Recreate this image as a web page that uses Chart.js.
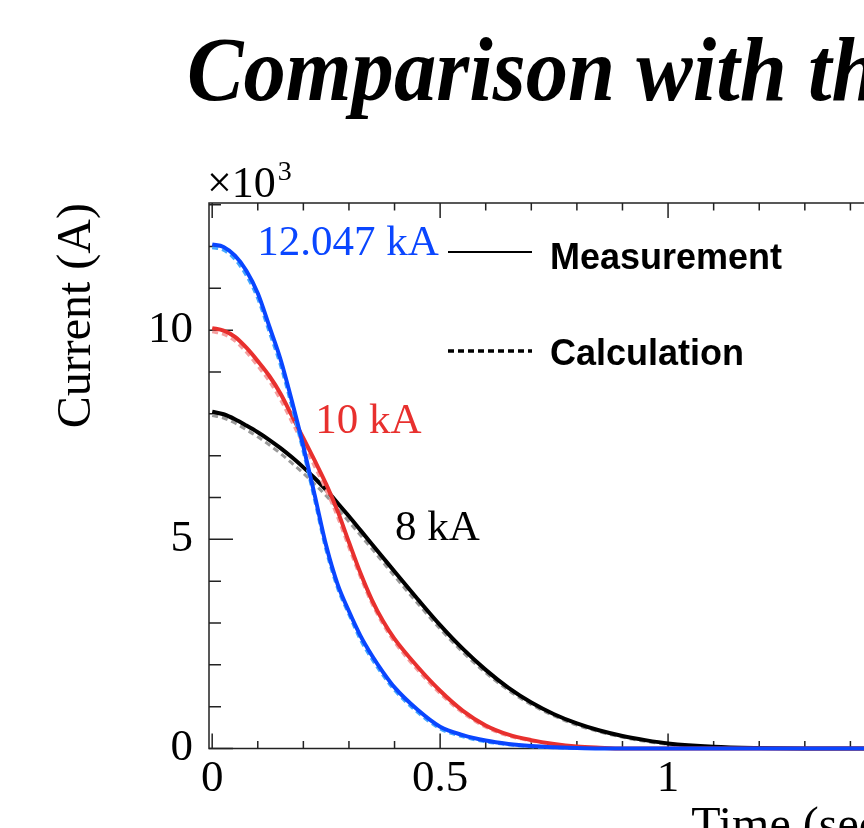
<!DOCTYPE html>
<html>
<head>
<meta charset="utf-8">
<script src="https://cdn.jsdelivr.net/npm/chart.js@4.4.1/dist/chart.umd.min.js"></script>
<style>
  html, body { margin: 0; padding: 0; background: #fff; width: 864px; height: 828px; overflow: hidden; }
  #wrap { position: relative; width: 960px; height: 880px; }
  #title {
    position: absolute; left: 187px; top: 23px;
    font: italic bold 92px "Liberation Serif", serif; line-height: 1;
    white-space: nowrap; transform: scaleX(0.92); transform-origin: 0 0;
  }
  canvas { position: absolute; left: 0; top: 0; }
</style>
</head>
<body>
<div id="wrap">
  <div id="title">Comparison with the calculation</div>
  <canvas id="chart" width="960" height="880"></canvas>
</div>
<script>
// time (sec)
const times = [0, 0.025, 0.05, 0.075, 0.1, 0.125, 0.15, 0.175, 0.2, 0.225, 0.25, 0.275,
  0.3, 0.325, 0.35, 0.375, 0.4, 0.45, 0.5, 0.55, 0.6, 0.65, 0.7, 0.75, 0.8, 0.85,
  0.9, 0.95, 1.0, 1.1, 1.2, 1.3, 1.4, 1.5];

// current (x10^3 A)
const blueMeas = [12.05, 11.99, 11.78, 11.42, 10.88, 10.1, 9.3, 8.3, 7.22, 6.05, 4.85, 3.93,
  3.28, 2.7, 2.23, 1.82, 1.46, 0.93, 0.52, 0.32, 0.19, 0.11, 0.06, 0.03, 0.01, 0,
  0, 0, 0, 0, 0, 0, 0, 0];
const blueCalc = [11.97, 11.91, 11.69, 11.3, 10.75, 9.96, 9.15, 8.15, 7.08, 5.92, 4.73, 3.83,
  3.2, 2.6, 2.14, 1.74, 1.39, 0.87, 0.47, 0.28, 0.16, 0.09, 0.04, 0.02, 0, 0,
  0, 0, 0, 0, 0, 0, 0, 0];
const redMeas = [10.05, 9.99, 9.84, 9.58, 9.26, 8.91, 8.48, 7.95, 7.42, 6.88, 6.32, 5.68,
  4.93, 4.2, 3.56, 3.04, 2.62, 1.96, 1.38, 0.9, 0.55, 0.33, 0.2, 0.11, 0.05, 0.02,
  0, 0, 0, 0, 0, 0, 0, 0];
const redCalc = [9.96, 9.9, 9.74, 9.47, 9.14, 8.78, 8.33, 7.8, 7.27, 6.73, 6.17, 5.53,
  4.8, 4.1, 3.47, 2.96, 2.54, 1.88, 1.31, 0.85, 0.51, 0.3, 0.18, 0.1, 0.04, 0.01,
  0, 0, 0, 0, 0, 0, 0, 0];
const blackMeas = [8.05, 7.99, 7.87, 7.72, 7.56, 7.38, 7.18, 6.96, 6.72, 6.46, 6.18, 5.87,
  5.55, 5.22, 4.89, 4.56, 4.23, 3.58, 2.95, 2.38, 1.88, 1.45, 1.1, 0.82, 0.6, 0.43,
  0.3, 0.2, 0.12, 0.04, 0.01, 0, 0, 0];
const blackCalc = [7.96, 7.9, 7.78, 7.62, 7.45, 7.26, 7.05, 6.82, 6.58, 6.32, 6.04, 5.74,
  5.42, 5.1, 4.78, 4.45, 4.12, 3.48, 2.86, 2.3, 1.81, 1.39, 1.05, 0.78, 0.56, 0.4,
  0.27, 0.17, 0.1, 0.03, 0, 0, 0, 0];

const xTicks = [0, 0.5, 1, 1.5];
const yTicks = [0, 5, 10];

// curve labels: [text, t, current, colour]
const curveLabels = [
  ["12.047 kA", 0.099, 11.8, "#0a46ff"],
  ["10 kA", 0.226, 7.54, "#e8302e"],
  ["8 kA", 0.401, 4.98, "#000000"],
];

const toPoints = (ys) => times.map((t, i) => ({ x: t, y: ys[i] }));

function meas(ys, color) {
  return {
    data: toPoints(ys), borderColor: color, borderWidth: 4,
    pointRadius: 0, cubicInterpolationMode: "monotone", clip: 6,
  };
}
function calc(ys, color) {
  return {
    data: toPoints(ys), borderColor: color, borderWidth: 3, borderDash: [6, 4],
    pointRadius: 0, cubicInterpolationMode: "monotone", clip: 6,
  };
}

// dataset 0 is drawn on top
const datasets = [
  meas(blueMeas, "#0a46ff"),
  calc(blueCalc, "#45a8ff"),
  meas(redMeas, "#e8302e"),
  calc(redCalc, "#f5a0a0"),
  meas(blackMeas, "#000000"),
  calc(blackCalc, "#9a9a9a"),
];

// frame and ROOT-style inward ticks
const framePlugin = {
  id: "frame",
  beforeDatasetsDraw(chart) {
    const { ctx, chartArea: a, scales: { x, y } } = chart;
    ctx.save();
    ctx.strokeStyle = "#222";
    ctx.lineWidth = 1.5;
    ctx.strokeRect(a.left, a.top, a.right - a.left, a.bottom - a.top);
    ctx.beginPath();
    for (let i = 0; i <= 15; i++) {
      const v = i / 10;
      const px = x.getPixelForValue(v);
      const len = i % 5 === 0 ? 15 : 7.5;
      ctx.moveTo(px, a.bottom); ctx.lineTo(px, a.bottom - len);
      ctx.moveTo(px, a.top); ctx.lineTo(px, a.top + len);
    }
    for (let v = 0; v <= 13; v++) {
      const py = y.getPixelForValue(v);
      const len = v % 5 === 0 ? 24 : 12;
      ctx.moveTo(a.left, py); ctx.lineTo(a.left + len, py);
    }
    ctx.stroke();
    ctx.restore();
  },
  afterDraw(chart) {
    const { ctx, chartArea: a, scales: { x, y } } = chart;
    ctx.save();
    ctx.fillStyle = "#000";
    ctx.textBaseline = "alphabetic";
    // exponent
    ctx.font = '44px "Liberation Serif"';
    ctx.fillText("\u00d710", a.left - 2, 197);
    const w = ctx.measureText("\u00d710").width;
    ctx.font = '28px "Liberation Serif"';
    ctx.fillText("3", a.left + w, 180);

    // curve labels
    ctx.font = '43px "Liberation Serif"';
    curveLabels.forEach(([txt, t, c, col]) => {
      ctx.fillStyle = col;
      ctx.fillText(txt, x.getPixelForValue(t), y.getPixelForValue(c));
    });

    // legend
    const lx = a.left + 239;
    ctx.strokeStyle = "#000";
    ctx.lineWidth = 2;
    ctx.beginPath(); ctx.moveTo(lx, 252); ctx.lineTo(lx + 84, 252); ctx.stroke();
    ctx.lineWidth = 3.5;
    ctx.setLineDash([6, 4]);
    ctx.beginPath(); ctx.moveTo(lx, 351); ctx.lineTo(lx + 84, 351); ctx.stroke();
    ctx.setLineDash([]);
    ctx.fillStyle = "#000";
    ctx.font = 'bold 36px "Liberation Sans"';
    ctx.fillText("Measurement", lx + 102, 269);
    ctx.fillText("Calculation", lx + 102, 365);
    ctx.restore();
  },
};

const serif = (size) => ({ family: "Liberation Serif", size });

new Chart(document.getElementById("chart"), {
  type: "line",
  data: { datasets },
  options: {
    responsive: false,
    animation: false,
    events: [],
    layout: { padding: { top: 203, right: 64, left: 0, bottom: 0 } },
    plugins: { legend: { display: false }, tooltip: { enabled: false } },
    scales: {
      x: {
        type: "linear", min: -0.007, max: 1.5,
        afterBuildTicks: (s) => { s.ticks = xTicks.map((v) => ({ value: v })); },
        afterFit: (s) => { s.height = 880 - 748.5; },
        grid: { display: false }, border: { display: false },
        ticks: { font: serif(45), color: "#000", padding: -4, maxRotation: 0, autoSkip: false,
          callback: (v) => String(v) },
        title: { display: true, text: "Time (sec)", align: "end", font: serif(48), color: "#000",
          padding: { top: 0, bottom: 24 } },
      },
      y: {
        min: 0, max: 13.04,
        afterBuildTicks: (s) => { s.ticks = yTicks.map((v) => ({ value: v })); },
        afterFit: (s) => { s.width = 209; },
        grid: { display: false }, border: { display: false },
        ticks: { font: serif(45), color: "#000", padding: 8, callback: (v) => String(v) },
        title: { display: true, text: "Current (A)", align: "end", font: serif(48), color: "#000",
          padding: { top: 49, bottom: 0 } },
      },
    },
  },
  plugins: [framePlugin],
});
</script>
</body>
</html>
